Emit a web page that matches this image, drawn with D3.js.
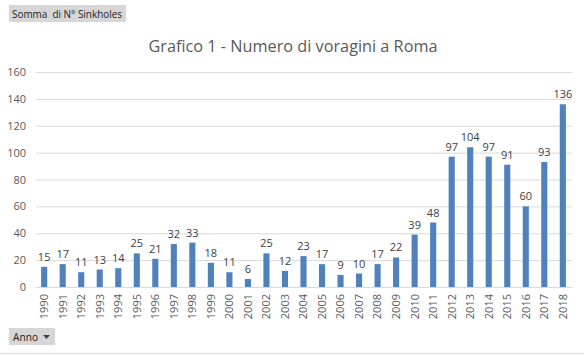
<!DOCTYPE html>
<html><head><meta charset="utf-8">
<script src="https://cdn.jsdelivr.net/npm/d3@7"></script>
<style>body{margin:0;background:#fff;font-family:"Liberation Sans",Arial,sans-serif;}</style>
</head><body>
<svg id="c" width="584" height="355"></svg>
<script>
const years = ["1990","1991","1992","1993","1994","1995","1996","1997","1998","1999","2000","2001","2002","2003","2004","2005","2006","2007","2008","2009","2010","2011","2012","2013","2014","2015","2016","2017","2018"];
const values = [15,17,11,13,14,25,21,32,33,18,11,6,25,12,23,17,9,10,17,22,39,48,97,104,97,91,60,93,136];
const yTicks = [0,20,40,60,80,100,120,140,160];

const svg = d3.select("#c");
const font = "'Open Sans', 'DejaVu Sans', sans-serif";
const x = d3.scaleBand().domain(years).range([35, 572]).paddingInner(0.67).paddingOuter(0.33);
const y = d3.scaleLinear().domain([0,160]).range([287, 72]);

// gridlines
svg.append("g").selectAll("line").data(yTicks).join("line")
  .attr("x1", 36).attr("x2", 572)
  .attr("y1", d => y(d)+0.5).attr("y2", d => y(d)+0.5)
  .attr("stroke", "#d9d9d9").attr("stroke-width", 1);

// y axis labels
const ya = svg.append("g").attr("transform","translate(26,0)")
  .call(d3.axisLeft(y).tickValues(yTicks).tickSize(0).tickPadding(0));
ya.select(".domain").remove();
ya.selectAll("text").attr("font-family", font).attr("font-size", 11).attr("fill", "#595959");

// bars
svg.append("g").selectAll("rect").data(values).join("rect")
  .attr("x", (d,i) => x(years[i])).attr("width", x.bandwidth())
  .attr("y", d => y(d)).attr("height", d => y(0) - y(d))
  .attr("fill", "#4f81bd");

// data labels
svg.append("g").selectAll("text").data(values).join("text")
  .attr("x", (d,i) => x(years[i]) + x.bandwidth()/2)
  .attr("y", d => y(d) - 6)
  .attr("text-anchor","middle").attr("font-family", font).attr("font-size", 11).attr("fill","#404040")
  .text(d => d);

// x axis
const xa = svg.append("g").attr("transform", `translate(0,${y(0)})`)
  .call(d3.axisBottom(x).tickSize(0).tickPadding(0));
xa.select(".domain").attr("stroke","#d9d9d9");
xa.selectAll("text").attr("font-family", font).attr("font-size", 11).attr("fill","#595959")
  .attr("transform","rotate(-90)").attr("text-anchor","end").attr("dy","0.35em").attr("x",-7).attr("y",0);

// title
svg.append("text").attr("x", 293).attr("y", 52).attr("text-anchor","middle")
  .attr("font-family", font).attr("font-size", 16).attr("fill","#595959")
  .attr("textLength", 289).attr("lengthAdjust","spacingAndGlyphs")
  .text("Grafico 1 - Numero di voragini a Roma");

// field buttons
svg.append("rect").attr("x",9).attr("y",5).attr("width",117).attr("height",17).attr("fill","#d6d6d6");
svg.append("text").attr("x",12).attr("y",18).attr("font-family", font).attr("font-size",11).attr("fill","#222")
  .attr("textLength",110).attr("lengthAdjust","spacingAndGlyphs")
  .text("Somma\u00a0\u00a0di N° Sinkholes");
svg.append("rect").attr("x",9).attr("y",328).attr("width",46).attr("height",17).attr("fill","#d6d6d6");
svg.append("text").attr("x",13).attr("y",341).attr("font-family", font).attr("font-size",11).attr("fill","#222")
  .attr("textLength",25).attr("lengthAdjust","spacingAndGlyphs")
  .text("Anno");
svg.append("path").attr("d","M43,335 L50,335 L46.5,339 Z").attr("fill","#444");
svg.append("line").attr("x1",0).attr("x2",584).attr("y1",353.5).attr("y2",353.5).attr("stroke","#d9d9d9");
</script>
</body></html>
